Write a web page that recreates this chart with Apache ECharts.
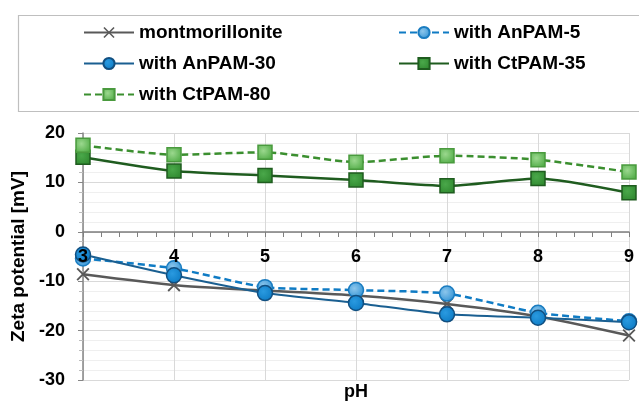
<!DOCTYPE html>
<html><head><meta charset="utf-8">
<script src="https://cdn.jsdelivr.net/npm/echarts@6/dist/echarts.min.js"></script>
<style>html,body{margin:0;padding:0;background:#fff}#c{width:639px;height:403px}</style>
</head><body><div id="c"></div>
<script>
var pH = [3, 4, 5, 6, 7, 8, 9];
var montmorillonite = [-8.6, -10.8, -11.9, -12.9, -14.6, -17.1, -21.0];
var anpam5 = [-5.4, -7.4, -11.2, -11.8, -12.5, -16.4, -18.1];
var anpam30 = [-4.6, -8.8, -12.4, -14.4, -16.7, -17.4, -18.3];
var ctpam35 = [15.1, 12.3, 11.4, 10.5, 9.3, 10.8, 7.9];
var ctpam80 = [17.5, 15.6, 16.1, 14.1, 15.4, 14.6, 12.1];
var names = ['montmorillonite', 'with AnPAM-5', 'with AnPAM-30', 'with CtPAM-35', 'with CtPAM-80'];

function pairs(vals) { return pH.map(function (x, i) { return [x, vals[i]]; }); }
var FONT = 'Liberation Sans, Arial, sans-serif';
var xPath = 'path://M0,2 L2,0 L10,8 L18,0 L20,2 L12,10 L20,18 L18,20 L10,12 L2,20 L0,18 L8,10 Z';
function rg(c1, c2) {
  return new echarts.graphic.RadialGradient(0.4, 0.4, 0.7, [{offset: 0, color: c1}, {offset: 1, color: c2}]);
}
var legendText = {fontFamily: FONT, fontWeight: 'bold', fontSize: 19, color: '#000'};

var chart = echarts.init(document.getElementById('c'), null, {renderer: 'canvas'});
chart.setOption({
  animation: false,
  backgroundColor: '#fff',
  graphic: [{
    type: 'rect', shape: {x: 18.5, y: 15.5, width: 640, height: 96},
    style: {fill: 'none', stroke: '#bfbfbf', lineWidth: 1.2}, z: -1
  }],
  legend: [{
    data: [names[0], names[2], names[4]],
    orient: 'vertical', left: 78, top: 18, itemGap: 12, itemWidth: 50, itemHeight: 14,
    textStyle: legendText
  }, {
    data: [names[1], names[3]],
    orient: 'vertical', left: 393, top: 18, itemGap: 12, itemWidth: 50, itemHeight: 14,
    textStyle: legendText
  }],
  grid: [
    {left: 83, right: 10, top: 133, bottom: 23, containLabel: false, outerBoundsMode: 'none'},
    {left: 83, right: 10, top: 133, bottom: 171, containLabel: false, outerBoundsMode: 'none'}
  ],
  xAxis: [{
    gridIndex: 0, type: 'value', min: 3, max: 9, interval: 1, position: 'bottom',
    name: 'pH', nameLocation: 'middle', nameGap: 3,
    nameTextStyle: {fontFamily: FONT, fontWeight: 'bold', fontSize: 18, color: '#000'},
    axisLine: {show: false, onZero: false},
    axisTick: {show: false},
    minorTick: {show: false},
    axisLabel: {show: false},
    splitLine: {show: true, lineStyle: {color: '#d9d9d9'}},
    minorSplitLine: {show: false}
  }, {
    gridIndex: 1, type: 'value', min: 3, max: 9, interval: 1, position: 'bottom', z: 10,
    axisLine: {show: true, onZero: false, lineStyle: {color: '#7f7f7f', width: 1.5}},
    axisTick: {show: true, inside: false, length: 5, lineStyle: {color: '#7f7f7f'}},
    minorTick: {show: true, splitNumber: 5, length: 5, lineStyle: {color: '#7f7f7f'}},
    axisLabel: {fontFamily: FONT, fontWeight: 'bold', fontSize: 18, color: '#000', margin: 16,
      showMinLabel: true, showMaxLabel: true, hideOverlap: false},
    splitLine: {show: false}
  }],
  yAxis: [{
    gridIndex: 0, type: 'value', min: -30, max: 20, interval: 10,
    name: 'Zeta potential [mV]', nameLocation: 'middle', nameGap: 49,
    nameTextStyle: {fontFamily: FONT, fontWeight: 'bold', fontSize: 19, color: '#000'},
    axisLine: {show: true, onZero: false, lineStyle: {color: '#868686', width: 1.5}},
    axisTick: {show: true, length: 5, lineStyle: {color: '#868686'}},
    minorTick: {show: true, splitNumber: 5, length: 4, lineStyle: {color: '#bdbdbd'}},
    axisLabel: {fontFamily: FONT, fontWeight: 'bold', fontSize: 18, color: '#000', margin: 18},
    splitLine: {show: true, lineStyle: {color: '#d9d9d9'}},
    minorSplitLine: {show: true, lineStyle: {color: '#efefef'}}
  }, {
    gridIndex: 1, type: 'value', min: 0, max: 20, show: false,
    splitLine: {show: false}
  }],
  series: [{
    name: names[0], type: 'line', data: pairs(montmorillonite), smooth: 0.2,
    symbol: xPath, symbolSize: 13,
    lineStyle: {color: '#595959', width: 2.5},
    itemStyle: {color: '#595959', borderWidth: 0}, z: 3
  }, {
    name: names[1], type: 'line', data: pairs(anpam5), smooth: 0.2,
    symbol: 'circle', symbolSize: 15,
    lineStyle: {color: '#0f7bc4', width: 2.5, type: [7, 4]},
    itemStyle: {color: rg('#8cc6ec', '#2b8fd3'), borderColor: '#1a7cc0', borderWidth: 1.5}, z: 4
  }, {
    name: names[2], type: 'line', data: pairs(anpam30), smooth: 0.2,
    symbol: 'circle', symbolSize: 15,
    lineStyle: {color: '#1a5f91', width: 2},
    itemStyle: {color: rg('#2a9ae0', '#0a78c2'), borderColor: '#114f80', borderWidth: 1.5}, z: 5
  }, {
    name: names[3], type: 'line', data: pairs(ctpam35), smooth: 0.2,
    symbol: 'rect', symbolSize: 14,
    lineStyle: {color: '#1f5c1f', width: 2.5},
    itemStyle: {color: rg('#4aa84a', '#2e872e'), borderColor: '#1f5c1f', borderWidth: 1.5}, z: 4
  }, {
    name: names[4], type: 'line', data: pairs(ctpam80), smooth: 0.2,
    symbol: 'rect', symbolSize: 14,
    lineStyle: {color: '#3b8f2f', width: 2.5, type: [7, 4]},
    itemStyle: {color: rg('#9bd88e', '#4eaa44'), borderColor: '#4a9a3e', borderWidth: 1.5}, z: 4
  }]
});
</script></body></html>
